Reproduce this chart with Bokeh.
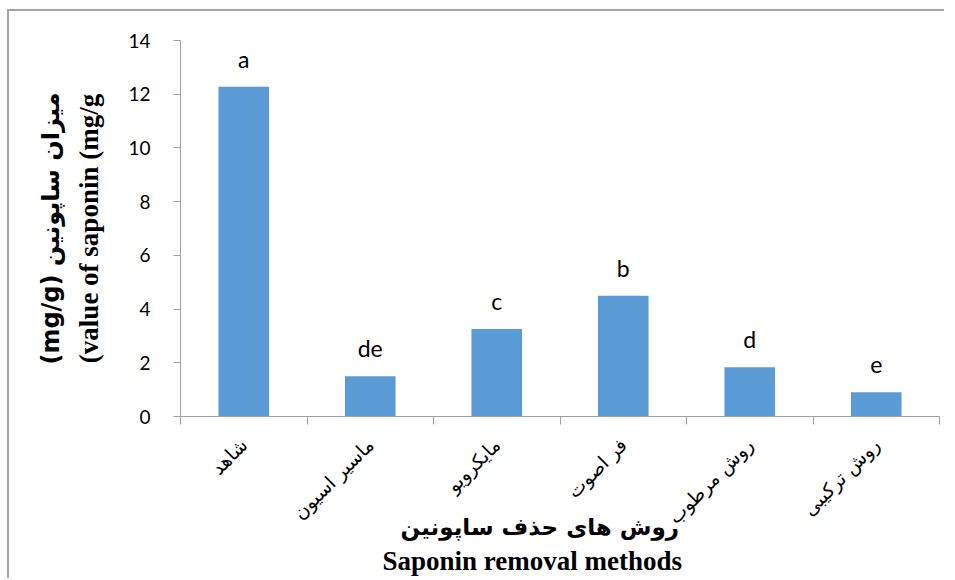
import math
from bokeh.plotting import figure
from bokeh.models import ColumnDataSource, Range1d, FixedTicker, Title
from bokeh.core.properties import value
from bokeh.embed import file_html
from bokeh.resources import INLINE

# ---- data ----
categories = ["شاهد", "ماسیر اسیون", "مایکرویو", "فر اصوت", "روش مرطوب", "روش ترکیبی"]
saponin = [12.28, 1.50, 3.26, 4.50, 1.83, 0.90]
letters = ["a", "de", "c", "b", "d", "e"]
y_ticks = [0, 2, 4, 6, 8, 10, 12, 14]

y_title_fa = "(mg/g) میزان ساپونین"
y_title_en = "(value of saponin (mg/g"
x_title_fa = "روش های حذف ساپونین"
x_title_en = "Saponin removal methods"

# category centres / boundaries on a numeric axis
centers = [i + 0.5 for i in range(len(categories))]
bounds = [float(i) for i in range(len(categories) + 1)]

src = ColumnDataSource(dict(x=centers, top=saponin, lab=letters))

p = figure(width=937, height=569, output_backend="svg", toolbar_location=None,
           x_range=Range1d(0, len(categories)), y_range=Range1d(0, 14),
           min_border_left=171, min_border_right=7, min_border_top=29,
           min_border_bottom=164)
p.styles = {"margin-left": "7px", "margin-top": "9px",
            "border-left": "2px solid #a6a6a6", "border-top": "2px solid #a6a6a6"}
p.outline_line_color = None
p.xgrid.visible = False
p.ygrid.visible = False
p.background_fill_color = "white"
p.border_fill_color = "white"

p.vbar(x="x", top="top", width=0.4, bottom=0, source=src,
       fill_color="#5B9BD5", line_color=None)

p.text(x="x", y="top", text="lab", source=src, y_offset=-28,
       text_align="center", text_baseline="alphabetic",
       text_font=value("Lato"), text_font_size="23px", text_color="black")

axis_color = "#a0a0a0"

# y axis
ya = p.yaxis[0]
ya.ticker = FixedTicker(ticks=y_ticks)
ya.axis_line_color = axis_color
ya.major_tick_line_color = axis_color
ya.major_tick_in = 0
ya.major_tick_out = 7
ya.minor_tick_line_color = None
ya.major_label_text_font = "Lato"
ya.major_label_text_font_size = "19px"
ya.major_label_text_color = "black"
ya.major_label_standoff = 23
ya.axis_label = y_title_en
ya.axis_label_text_font = "Liberation Serif"
ya.axis_label_text_font_style = "bold"
ya.axis_label_text_font_size = "27px"
ya.axis_label_text_color = "black"
ya.axis_label_standoff = 21

# x axis
xa = p.xaxis[0]
xa.ticker = FixedTicker(ticks=centers, minor_ticks=bounds)
xa.axis_line_color = axis_color
xa.major_tick_line_color = None
xa.minor_tick_line_color = axis_color
xa.minor_tick_in = 0
xa.minor_tick_out = 8
xa.major_label_overrides = {c: lab for c, lab in zip(centers, categories)}
xa.major_label_orientation = math.pi / 4
xa.major_label_text_font = "DejaVu Sans"
xa.major_label_text_font_size = "19px"
xa.major_label_text_color = "black"
xa.major_label_standoff = 17

# outer y title line (Persian)
p.add_layout(Title(text=y_title_fa, align="center", vertical_align="middle",
                   text_font="DejaVu Sans", text_font_style="bold",
                   text_font_size="24px", text_color="black", standoff=12), "left")

# x titles
p.add_layout(Title(text=x_title_fa, align="left", offset=220, vertical_align="top",
                   text_font="DejaVu Sans", text_font_style="bold",
                   text_font_size="23px", text_color="black", standoff=-50), "below")
p.add_layout(Title(text=x_title_en, align="left", offset=202, vertical_align="bottom",
                   text_font="Liberation Serif", text_font_style="bold",
                   text_font_size="27px", text_color="black", standoff=10), "below")

open("out.html", "w").write(file_html(p, INLINE))
